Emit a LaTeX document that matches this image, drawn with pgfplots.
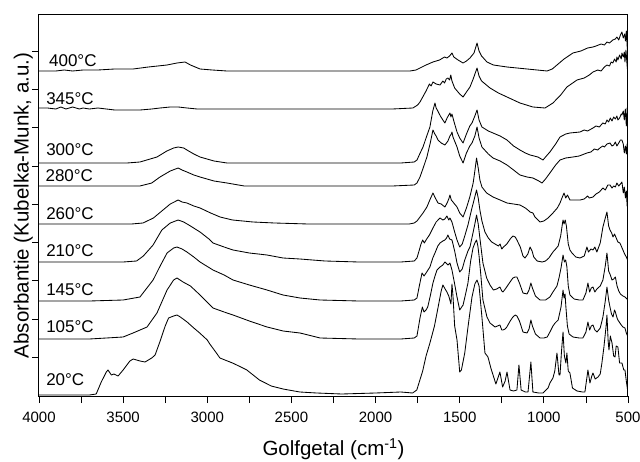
\documentclass[border=0pt]{standalone}
\usepackage{fontspec}
\setmainfont{Liberation Sans}
\usepackage{pgfplots}
\pgfplotsset{compat=1.18}
\pgfplotsset{spec/.style={black, line width=0.85pt, line join=round, mark=none, solid}}
\begin{document}
\begin{tikzpicture}
\begin{axis}[
  scale only axis, width=589pt, height=381pt,
  x dir=reverse, xmin=500, xmax=4000, ymin=0, ymax=381,
  xtick={500,1000,...,4000}, minor x tick num=1,
  xtick pos=bottom, ytick pos=left,
  tick align=outside, major tick length=7pt, minor tick length=7pt,
  ytick={39,77,116,154,192,230,269,307,345}, yticklabels={},
  /pgf/number format/assume math mode=true, /pgf/number format/1000 sep={},
  tick label style={font=\fontsize{15}{18}\selectfont},
  xticklabel style={yshift=-5pt},
  label style={font=\fontsize{20.5}{24}\selectfont},
  tick style={line width=0.8pt, black},
  xlabel={Golfgetal (cm\textsuperscript{-1})},
  ylabel={Absorbantie (Kubelka-Munk, a.u.)},
  xlabel style={at={(axis description cs:0.5,0)}, anchor=north, inner sep=0pt, yshift=-42pt},
  ylabel style={at={(axis description cs:-0.0102,0.5)}, anchor=south, inner sep=0pt},
  axis line style={line width=1pt},
]
% 400 C
\addplot[spec] coordinates {(4000,325) (3900,325) (3850,326) (3800,325) (3738,326) (3650,326) (3550,327) (3441,327) (3350,329) (3239,331) (3180,333) (3132,334) (3100,331) (3043,327) (2970,326) (2883,325) (2700,325) (2500,325) (2300,325) (2100,325) (1900,325) (1795,325) (1760,326) (1736,328) (1700,331) (1659,334) (1620,336) (1590,339) (1576,338) (1560,340) (1546,343) (1535,339) (1510,336) (1480,333) (1460,335) (1439,338) (1415,343) (1397,353) (1385,345) (1370,340) (1338,334) (1300,331) (1219,329) (1100,327) (1040,326) (981,325) (950,327) (922,331) (880,337) (827,343) (780,345) (740,348) (708,349) (690,350) (660,352) (640,351) (625,354) (610,353) (590,356) (575,357) (566,359) (555,356) (545,361) (536,364) (528,358) (520,362) (515,355) (510,365) (505,350) (500,340)};
% 345 C
\addplot[spec] coordinates {(4000,288) (3950,288) (3900,287) (3870,289) (3840,287) (3800,289) (3760,287) (3738,288) (3700,287) (3650,288) (3600,287) (3550,286) (3480,286) (3400,286) (3330,287) (3281,288) (3220,289) (3173,289) (3120,288) (3061,287) (2900,287) (2700,287) (2500,287) (2300,287) (2100,287) (1900,287) (1778,288) (1750,291) (1736,294) (1700,305) (1680,312) (1670,310) (1659,314) (1640,312) (1617,311) (1600,315) (1590,313) (1580,317) (1570,318) (1560,316) (1553,321) (1546,315) (1530,308) (1500,302) (1480,299) (1460,304) (1439,309) (1420,317) (1397,328) (1385,320) (1370,315) (1320,308) (1270,303) (1219,299) (1142,293) (1065,289) (993,288) (946,293) (900,301) (863,309) (803,316) (760,318) (730,321) (708,324) (680,326) (660,325) (640,329) (625,331) (610,330) (600,334) (590,333) (580,337) (570,334) (566,339) (560,336) (550,341) (540,337) (536,343) (528,339) (522,344) (518,334) (512,346) (506,332) (500,320)};
% 300 C
\addplot[spec] coordinates {(4000,233) (3800,233) (3600,233) (3477,233) (3400,234) (3299,239) (3240,245) (3200,248) (3173,249) (3140,248) (3121,246) (3080,242) (3043,239) (2960,235) (2883,233) (2700,233) (2400,233) (2100,233) (1850,233) (1770,234) (1754,236) (1735,243) (1718,249) (1700,258) (1677,269) (1660,285) (1647,293) (1640,288) (1630,285) (1615,280) (1600,276) (1588,273) (1575,278) (1565,281) (1558,283) (1552,279) (1546,282) (1535,275) (1516,264) (1500,258) (1480,253) (1460,262) (1440,270) (1427,273) (1410,280) (1397,286) (1385,276) (1368,269) (1330,265) (1302,263) (1260,260) (1219,256) (1180,250) (1142,246) (1110,243) (1082,241) (1035,239) (1005,236) (985,240) (964,244) (930,252) (904,259) (870,262) (845,263) (785,264) (760,266) (740,265) (708,268) (690,270) (670,269) (650,273) (635,272) (625,276) (615,274) (605,278) (595,275) (585,279) (575,277) (566,280) (560,276) (550,278) (540,282) (536,281) (528,285) (522,276) (516,287) (510,270) (505,288) (500,265)};
% 280 C
\addplot[spec] coordinates {(4000,210) (3800,210) (3600,210) (3400,210) (3330,213) (3281,219) (3220,225) (3173,228) (3150,226) (3121,224) (3080,221) (3043,219) (2960,215) (2883,213) (2780,210) (2500,210) (2200,210) (1900,210) (1770,211) (1754,213) (1736,219) (1715,229) (1695,239) (1675,253) (1659,266) (1648,262) (1640,260) (1629,256) (1610,253) (1588,251) (1570,255) (1558,260) (1550,262) (1546,264) (1540,259) (1516,249) (1500,240) (1480,233) (1460,243) (1440,250) (1427,253) (1410,260) (1397,269) (1385,258) (1368,249) (1330,242) (1302,238) (1260,235) (1219,231) (1180,226) (1142,221) (1100,219) (1065,218) (1030,215) (1011,213) (990,217) (964,223) (930,231) (904,236) (870,238) (827,239) (790,240) (744,243) (720,244) (700,247) (680,246) (667,248) (650,250) (640,249) (625,252) (607,253) (595,250) (585,251) (575,254) (566,250) (555,253) (545,256) (536,256) (528,252) (522,243) (515,250) (510,242) (505,252) (500,238)};
% 260 C
\addplot[spec] coordinates {(4000,172) (3800,172) (3600,172) (3450,172) (3382,173) (3320,178) (3263,186) (3220,192) (3173,196) (3150,194) (3121,193) (3080,190) (3043,188) (2980,183) (2924,179) (2850,176) (2728,174) (2600,173) (2400,172) (2200,172) (1950,172) (1800,172) (1770,173) (1754,175) (1736,179) (1718,183) (1695,189) (1675,197) (1659,203) (1645,198) (1629,193) (1610,192) (1588,189) (1575,193) (1565,197) (1558,201) (1550,196) (1540,194) (1516,189) (1500,183) (1480,179) (1460,188) (1440,199) (1420,213) (1410,225) (1400,238) (1390,228) (1380,216) (1368,209) (1340,203) (1302,199) (1260,196) (1219,193) (1180,192) (1142,191) (1110,188) (1095,186) (1082,184) (1065,183) (1053,179) (1023,174) (1000,175) (975,178) (946,183) (920,188) (904,193) (890,199) (880,203) (870,198) (860,201) (845,196) (820,196) (785,196) (760,197) (740,200) (730,198) (708,199) (690,202) (670,204) (649,208) (635,206) (620,211) (607,211) (595,208) (585,210) (575,209) (566,213) (555,210) (545,212) (536,214) (528,203) (522,209) (515,198) (510,205) (505,190) (500,196)};
% 210 C
\addplot[spec] coordinates {(4000,134) (3700,134) (3500,134) (3420,135) (3380,140) (3322,151) (3270,166) (3220,173) (3173,176) (3140,174) (3100,170) (3043,164) (2990,157) (2966,153) (2900,149) (2847,146) (2750,143) (2645,141) (2550,138) (2449,137) (2300,135) (2100,134) (1850,134) (1770,135) (1754,138) (1740,146) (1730,152) (1720,156) (1710,153) (1700,156) (1680,161) (1659,168) (1640,174) (1617,178) (1600,176) (1588,177) (1576,180) (1565,176) (1558,178) (1546,174) (1530,164) (1516,156) (1500,149) (1485,152) (1470,160) (1451,171) (1430,186) (1415,196) (1400,206) (1390,198) (1380,186) (1368,175) (1350,164) (1330,158) (1310,154) (1290,152) (1270,150) (1260,152) (1250,147) (1240,149) (1220,152) (1200,157) (1184,160) (1170,159) (1160,156) (1140,149) (1124,140) (1112,138) (1095,142) (1082,149) (1070,145) (1060,139) (1040,135) (1010,134) (990,135) (970,138) (946,144) (930,147) (915,150) (900,160) (890,172) (886,176) (880,172) (873,176) (866,170) (855,152) (845,146) (833,143) (810,139) (785,138) (760,140) (744,149) (735,144) (720,147) (708,146) (697,149) (685,144) (665,153) (649,169) (635,178) (625,184) (615,170) (607,166) (597,163) (589,159) (580,162) (570,158) (560,154) (548,153) (535,148) (520,142) (510,139) (500,135)};
% 145 C
\addplot[spec] coordinates {(4000,95) (3700,95) (3500,96) (3400,99) (3322,116) (3280,130) (3239,143) (3200,148) (3180,149) (3150,147) (3121,144) (3080,139) (3043,134) (2966,126) (2900,121) (2847,116) (2750,111) (2645,106) (2550,101) (2449,98) (2330,96) (2100,95) (1850,95) (1770,96) (1754,98) (1740,110) (1724,123) (1712,120) (1700,123) (1677,129) (1660,138) (1647,143) (1630,150) (1617,153) (1600,155) (1588,156) (1578,158) (1570,161) (1560,157) (1546,156) (1530,145) (1516,133) (1500,124) (1485,127) (1470,136) (1451,145) (1439,149) (1425,160) (1410,172) (1400,181) (1390,172) (1378,155) (1362,133) (1340,118) (1320,111) (1300,106) (1280,107) (1261,109) (1250,105) (1243,104) (1225,108) (1205,113) (1184,118) (1170,119) (1160,119) (1145,113) (1124,103) (1100,102) (1088,106) (1077,113) (1068,108) (1050,100) (1023,96) (990,96) (964,99) (946,104) (922,110) (910,118) (898,128) (886,141) (878,134) (870,136) (863,129) (855,110) (845,101) (820,97) (790,96) (768,96) (750,103) (738,113) (728,104) (718,108) (708,109) (697,104) (685,107) (665,110) (649,116) (635,130) (625,143) (615,125) (605,121) (595,116) (585,117) (575,119) (565,110) (555,105) (545,102) (530,100) (518,99) (500,96)};
% 105 C
\addplot[spec] coordinates {(4000,57) (3700,57) (3500,59) (3441,63) (3358,69) (3299,83) (3239,106) (3200,116) (3180,118) (3144,114) (3100,110) (3043,101) (2966,88) (2900,84) (2847,81) (2750,75) (2645,69) (2550,65) (2449,63) (2330,58) (2100,57) (1850,57) (1770,58) (1754,60) (1736,78) (1722,89) (1712,84) (1700,86) (1690,89) (1675,100) (1659,113) (1645,121) (1635,126) (1617,129) (1600,131) (1588,134) (1570,131) (1558,133) (1546,126) (1530,112) (1516,99) (1500,86) (1480,91) (1465,102) (1451,113) (1435,135) (1421,148) (1410,153) (1400,156) (1392,150) (1385,140) (1375,122) (1362,96) (1338,79) (1320,73) (1290,69) (1261,71) (1250,66) (1243,66) (1230,67) (1220,69) (1200,75) (1184,79) (1170,81) (1160,80) (1145,75) (1124,64) (1100,63) (1088,67) (1077,76) (1068,70) (1050,62) (1023,58) (1000,58) (980,59) (964,64) (946,70) (933,73) (915,76) (898,89) (886,106) (880,98) (874,102) (869,89) (860,70) (850,62) (827,59) (790,58) (768,58) (750,64) (738,74) (728,66) (718,70) (708,71) (697,66) (684,64) (665,68) (649,79) (635,95) (625,109) (615,96) (607,89) (598,82) (589,79) (580,86) (575,84) (565,78) (560,76) (548,73) (540,71) (530,69) (518,68) (510,63) (500,59)};
% 20 C
\addplot[spec] coordinates {(4000,1) (3700,1) (3660,2) (3630,14) (3600,24) (3590,26) (3570,21) (3555,22) (3530,20) (3500,26) (3460,35) (3440,37) (3400,35) (3370,34) (3330,38) (3310,41) (3280,55) (3250,70) (3230,78) (3200,80) (3180,81) (3160,79) (3120,74) (3080,68) (3045,63) (3000,56) (2985,52) (2950,44) (2925,38) (2880,35) (2850,33) (2800,29) (2765,26) (2720,20) (2690,16) (2620,10) (2550,7) (2450,4) (2350,3) (2200,2) (2000,3) (1850,4) (1780,3) (1755,6) (1720,25) (1700,40) (1677,53) (1650,70) (1635,83) (1610,105) (1600,111) (1590,108) (1576,104) (1565,100) (1552,92) (1546,112) (1540,100) (1530,70) (1516,56) (1500,24) (1490,26) (1470,43) (1450,70) (1427,99) (1410,112) (1397,116) (1385,110) (1368,79) (1350,43) (1332,39) (1315,28) (1300,20) (1285,12) (1261,24) (1245,9) (1230,15) (1219,24) (1201,6) (1180,5) (1160,6) (1148,31) (1135,6) (1110,4) (1094,4) (1077,34) (1065,4) (1030,3) (1005,3) (975,8) (964,13) (946,18) (935,25) (922,43) (910,21) (904,21) (895,45) (886,64) (878,40) (869,33) (863,43) (855,25) (845,23) (830,8) (803,5) (770,4) (756,4) (738,26) (726,13) (715,20) (708,23) (695,17) (678,19) (665,22) (655,33) (643,49) (630,70) (625,81) (618,55) (613,46) (605,60) (595,53) (585,40) (577,39) (570,50) (560,49) (550,33) (536,33) (525,26) (518,26) (510,15) (500,3)};
\begin{scope}[every node/.style={anchor=west, inner sep=0pt, font=\fontsize{17}{20}\selectfont}]
\node at (axis cs:3941,335) {400°C};
\node at (axis cs:3958,297) {345°C};
\node at (axis cs:3958,246) {300°C};
\node at (axis cs:3962,220) {280°C};
\node at (axis cs:3958,182) {260°C};
\node at (axis cs:3958,145) {210°C};
\node at (axis cs:3958,106) {145°C};
\node at (axis cs:3958,69) {105°C};
\node at (axis cs:3958,16) {20°C};
\end{scope}
\end{axis}
\pgfresetboundingbox
\path ([shift={(-39pt,-65pt)}]current axis.south west) rectangle ([shift={(12pt,15pt)}]current axis.north east);
\end{tikzpicture}
\end{document}
